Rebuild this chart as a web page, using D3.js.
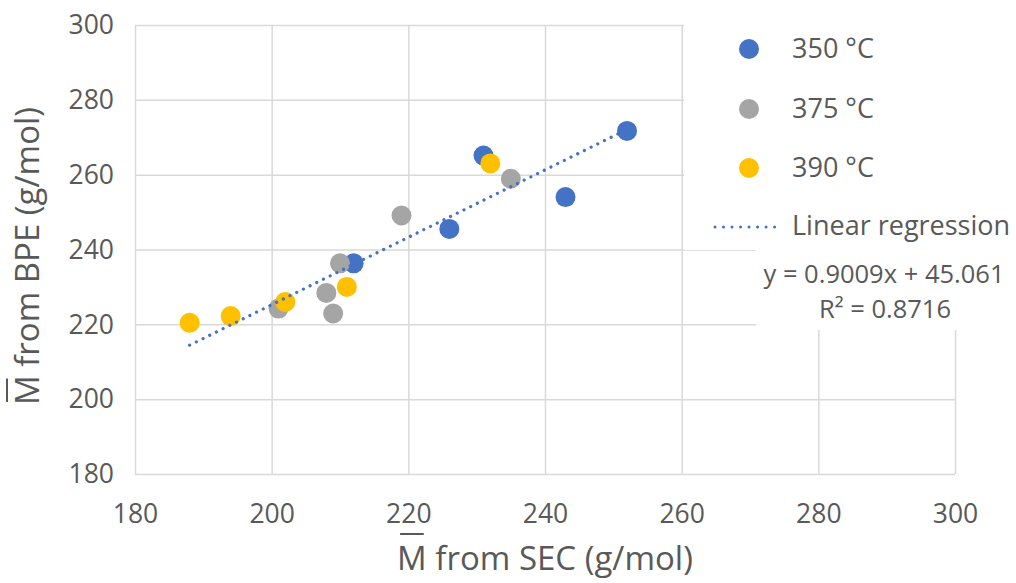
<!DOCTYPE html>
<html>
<head>
<meta charset="utf-8">
<script src="https://cdn.jsdelivr.net/npm/d3@7"></script>
<style>
  html, body { margin: 0; padding: 0; background: #fff; }
  svg { display: block; font-family: "Open Sans", "Noto Sans", sans-serif; }
</style>
</head>
<body>
<svg id="chart" width="1016" height="583"></svg>
<script>
// ---- data ----
const seriesNames = ["350 °C", "375 °C", "390 °C"];
const sec350 = [252, 231, 243, 226, 212];
const bpe350 = [271.7, 265.1, 254.0, 245.5, 236.3];
const sec375 = [235, 219, 210, 208, 209, 201];
const bpe375 = [258.9, 249.1, 236.3, 228.4, 222.9, 224.2];
const sec390 = [232, 211, 202, 194, 188];
const bpe390 = [263.0, 230.0, 226.0, 222.2, 220.4];
const xTicks = [180, 200, 220, 240, 260, 280, 300];
const yTicks = [180, 200, 220, 240, 260, 280, 300];
const trendSlope = 0.9009;
const trendIntercept = 45.061;
const trendLabel = "y = 0.9009x + 45.061";
const r2Label = "R² = 0.8716";
const trendName = "Linear regression";

// ---- styles ----
const colors = ["#4472C4", "#A5A5A5", "#FFC000"];
const gridColor = "#D9D9D9";
const textColor = "#595959";

const svg = d3.select("#chart");
const x = d3.scaleLinear().domain([180, 300]).range([135, 955]);
const y = d3.scaleLinear().domain([180, 300]).range([474, 25]);

// x gridlines + labels
const gx = svg.append("g").attr("transform", `translate(0,${y.range()[0]})`)
  .call(d3.axisBottom(x).tickValues(xTicks).tickSize(-(y.range()[0] - y.range()[1])).tickFormat(d3.format("d")));
gx.select(".domain").remove();
gx.selectAll("line").attr("stroke", gridColor).attr("stroke-width", 1.5);
gx.selectAll("text").attr("y", 49).attr("dy", 0).attr("fill", textColor)
  .attr("font-size", 26.5).attr("font-family", "'Open Sans', sans-serif");

// y gridlines + labels
const gy = svg.append("g").attr("transform", `translate(${x.range()[0]},0)`)
  .call(d3.axisLeft(y).tickValues(yTicks).tickSize(-(x.range()[1] - x.range()[0])).tickFormat(d3.format("d")));
gy.select(".domain").remove();
gy.selectAll("line").attr("stroke", gridColor).attr("stroke-width", 1.5);
gy.selectAll("text").attr("x", -21).attr("dy", "0.33em").attr("fill", textColor)
  .attr("font-size", 26.5).attr("font-family", "'Open Sans', sans-serif");

// legend background boxes (cover gridlines)
svg.append("rect").attr("x", 684).attr("y", 18).attr("width", 332).attr("height", 232).attr("fill", "#fff");
svg.append("rect").attr("x", 756).attr("y", 250).attr("width", 260).attr("height", 80).attr("fill", "#fff");

// points
const series = [
  { xs: sec350, ys: bpe350 },
  { xs: sec375, ys: bpe375 },
  { xs: sec390, ys: bpe390 }
];
series.forEach((s, i) => {
  svg.append("g").selectAll("circle")
    .data(s.xs.map((v, k) => [v, s.ys[k]]))
    .join("circle")
    .attr("cx", d => x(d[0]))
    .attr("cy", d => y(d[1]))
    .attr("r", 10)
    .attr("fill", colors[i]);
});

// trendline
const allX = sec350.concat(sec375, sec390);
const tx = d3.extent(allX);
svg.append("line")
  .attr("x1", x(tx[0])).attr("y1", y(trendSlope * tx[0] + trendIntercept))
  .attr("x2", x(tx[1])).attr("y2", y(trendSlope * tx[1] + trendIntercept))
  .attr("stroke", "#4472C4").attr("stroke-width", 3.2)
  .attr("stroke-linecap", "round").attr("stroke-dasharray", "0.01 7.45");

// legend
const legBase = [58, 118, 177];
seriesNames.forEach((n, i) => {
  svg.append("circle").attr("cx", 749).attr("cy", legBase[i] - 9).attr("r", 10).attr("fill", colors[i]);
  svg.append("text").attr("x", 792).attr("y", legBase[i]).attr("font-size", 27)
    .attr("fill", textColor).text(n);
});
svg.append("line").attr("x1", 715).attr("x2", 783).attr("y1", 227).attr("y2", 227)
  .attr("stroke", "#4472C4").attr("stroke-width", 3).attr("stroke-linecap", "round")
  .attr("stroke-dasharray", "0.01 8.5");
svg.append("text").attr("x", 792).attr("y", 235).attr("font-size", 27)
  .attr("fill", textColor).text(trendName);

svg.append("text").attr("x", 884).attr("y", 283).attr("font-size", 25.5)
  .attr("text-anchor", "middle").attr("fill", textColor).text(trendLabel);
svg.append("text").attr("x", 885).attr("y", 318).attr("font-size", 25.5)
  .attr("text-anchor", "middle").attr("fill", textColor).text(r2Label);

// axis titles with overlined M
function titleWithBar(g, rest, barOffset) {
  const t = g.append("text").attr("text-anchor", "middle").attr("font-size", 33).attr("fill", textColor);
  t.append("tspan").text("M");
  t.append("tspan").text(rest);
  const node = t.node();
  const p = node.getStartPositionOfChar(0);
  const w = node.getSubStringLength(0, 1);
  g.append("line")
    .attr("x1", p.x + 3).attr("x2", p.x + w - 3)
    .attr("y1", -barOffset).attr("y2", -barOffset)
    .attr("stroke", textColor).attr("stroke-width", 2);
}
const xt = svg.append("g").attr("transform", "translate(545,570)");
titleWithBar(xt, " from SEC (g/mol)", 36);
const yt = svg.append("g").attr("transform", "translate(39,256) rotate(-90)");
titleWithBar(yt, " from BPE (g/mol)", 32);
</script>
</body>
</html>
